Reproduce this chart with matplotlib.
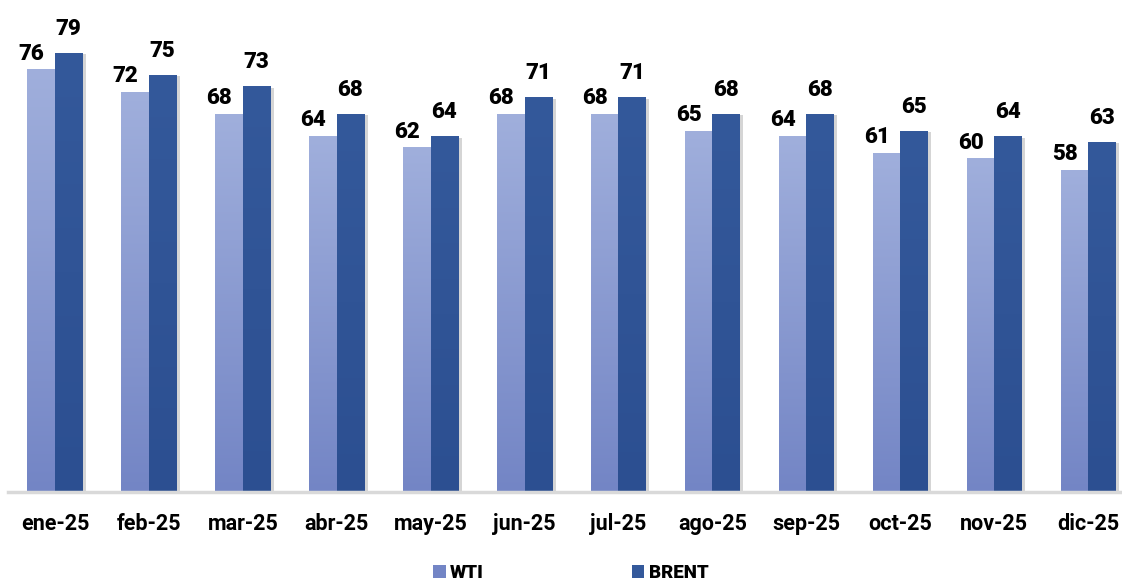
import numpy as np
import matplotlib
matplotlib.use("Agg")
import matplotlib.pyplot as plt
from matplotlib.patches import Patch
from matplotlib import patheffects as pe
from matplotlib.colors import LinearSegmentedColormap

months = ["ene-25", "feb-25", "mar-25", "abr-25", "may-25", "jun-25",
          "jul-25", "ago-25", "sep-25", "oct-25", "nov-25", "dic-25"]
wti = [76, 72, 68, 64, 62, 68, 68, 65, 64, 61, 60, 58]
brent = [79, 75, 73, 68, 64, 71, 71, 68, 68, 65, 64, 63]
series_names = ["WTI", "BRENT"]

plt.rcParams['font.family'] = ['Roboto', 'DejaVu Sans']

fig = plt.figure(figsize=(11.22, 5.83), dpi=100)
ax = fig.add_axes([8/1122, 91/583, 1127/1122, 492/583])

x = np.arange(len(months))
w = 0.293

wti_top, wti_bot = "#a0afdc", "#7385c5"
br_top, br_bot = "#34599b", "#2c4f91"

shadow = [pe.SimplePatchShadow(offset=(2.5, -1), shadow_rgbFace="#888888", alpha=0.35), pe.Normal()]

b1 = ax.bar(x - w/2, wti, w, color=wti_top, zorder=2, path_effects=shadow)
b2 = ax.bar(x + w/2, brent, w, color=br_top, zorder=2, path_effects=shadow)

grad = np.linspace(0, 1, 256).reshape(-1, 1)
for bars, top, bot in ((b1, wti_top, wti_bot), (b2, br_top, br_bot)):
    cmap = LinearSegmentedColormap.from_list("g", [top, bot])
    for r in bars:
        x0, y0 = r.get_x(), r.get_y()
        im = ax.imshow(grad, cmap=cmap, aspect='auto', origin='upper',
                       extent=(x0, x0 + r.get_width(), y0, y0 + r.get_height()),
                       zorder=3)
        im.set_clip_path(r)

for xi, v in zip(x, wti):
    ax.annotate(str(v), (xi - w/2, v), xytext=(-7, 7), textcoords='offset points',
                ha='center', va='baseline', fontsize=16, fontweight='black', color='black')
for xi, v in zip(x, brent):
    ax.annotate(str(v), (xi + w/2, v), xytext=(0, 13), textcoords='offset points',
                ha='center', va='baseline', fontsize=16, fontweight='black', color='black')

ax.set_xlim(-0.5, len(months) - 0.5)
ax.set_ylim(0, 88.5)
ax.set_xticks(x)
ax.set_xticklabels(months, fontsize=15.5, fontweight='bold')
ax.tick_params(axis='x', length=0, pad=15)
ax.set_yticks([])
for s in ['top', 'left', 'right']:
    ax.spines[s].set_visible(False)
ax.spines['bottom'].set_color('#d9d9d9')
ax.spines['bottom'].set_linewidth(2.5)
ax.spines['bottom'].set_zorder(4)

handles = [Patch(facecolor=wti_bot), Patch(facecolor=br_top)]
fig.legend(handles, series_names, loc='center', bbox_to_anchor=(0.509, 0.017), ncol=2,
           frameon=False, columnspacing=7.9, handlelength=0.65, handleheight=0.65,
           handletextpad=0.25, prop={'weight': 'black', 'size': 13.5})

fig.savefig("out.png", dpi=100)
